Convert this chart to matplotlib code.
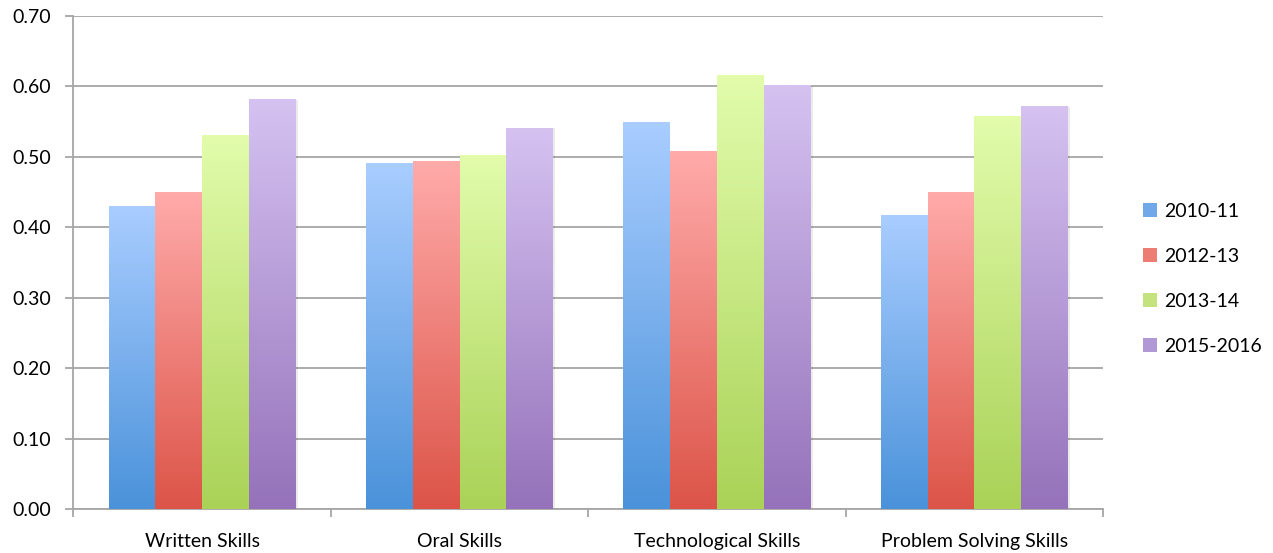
import numpy as np
import matplotlib
matplotlib.use("Agg")
import matplotlib.pyplot as plt
from matplotlib.patches import Patch, Rectangle
from matplotlib.colors import LinearSegmentedColormap

categories = ["Written Skills", "Oral Skills", "Technological Skills", "Problem Solving Skills"]
series = ["2010-11", "2012-13", "2013-14", "2015-2016"]
v2010 = [0.430, 0.490, 0.549, 0.417]
v2012 = [0.449, 0.494, 0.508, 0.449]
v2013 = [0.530, 0.502, 0.615, 0.558]
v2015 = [0.581, 0.541, 0.601, 0.571]
values = [v2010, v2012, v2013, v2015]

tops = ["#a9cdff", "#ffabaa", "#e2fcac", "#d5c2f1"]
bottoms = ["#4a92da", "#dc5448", "#aad257", "#9572ba"]
mids = ["#6fa9ea", "#ec7c74", "#c4e37e", "#b199d6"]

plt.rcParams['font.family'] = ['Lato', 'DejaVu Sans']
fig = plt.figure(figsize=(12.73, 5.53), dpi=100)
ax = fig.add_axes([0.0577, 0.0796, 0.8665 - 0.0577, 0.971 - 0.0796])

ax.set_xlim(-0.5, 3.5)
ax.set_ylim(0, 0.70)
width = 0.1816
x = np.arange(len(categories))
grad = np.linspace(1, 0, 256).reshape(-1, 1)

for i, vals in enumerate(values):
    offs = x + (i - 1.5) * width
    bars = ax.bar(offs, vals, width=width, color='none', edgecolor='none', zorder=3)
    cmap = LinearSegmentedColormap.from_list(f"g{i}", [bottoms[i], tops[i]])
    for b in bars:
        bx, by = b.get_x(), b.get_height()
        if i == 3:
            sh = Rectangle((bx + b.get_width(), 0), 0.008, by, facecolor='#000000',
                           alpha=0.08, edgecolor='none', zorder=2.5)
            ax.add_patch(sh)
        ax.imshow(grad, cmap=cmap, aspect='auto', origin='upper',
                  extent=[bx, bx + b.get_width(), 0, by], zorder=3, interpolation='bilinear')

ax.set_xlim(-0.5, 3.5)
ax.set_ylim(0, 0.70)

fs = 14
ax.set_yticks(np.arange(0, 0.71, 0.10))
ax.set_yticklabels([f"{t:.2f}" for t in np.arange(0, 0.71, 0.10)], fontsize=fs)
ax.yaxis.grid(True, color='#a6a6a6', linewidth=1.3, zorder=0)
ax.set_axisbelow(True)

ax.set_xticks([-0.5, 0.5, 1.5, 2.5, 3.5])
ax.set_xticklabels([])
ax.set_xticks(x, minor=True)
ax.set_xticklabels(categories, minor=True, fontsize=fs)
ax.tick_params(axis='x', which='minor', length=0, pad=17)
ax.tick_params(axis='x', which='major', length=6, color='#a6a6a6', width=1.3)
ax.tick_params(axis='y', length=6, color='#a6a6a6', width=1.3, pad=10)

for s in ['top', 'right']:
    ax.spines[s].set_visible(False)
for s in ['left', 'bottom']:
    ax.spines[s].set_color('#a6a6a6')
    ax.spines[s].set_linewidth(1.3)

handles = [Patch(facecolor=mids[i], edgecolor='none', label=series[i]) for i in range(4)]
fig.legend(handles=handles, loc='center left', bbox_to_anchor=(0.884, 0.496),
           frameon=False, fontsize=fs, handlelength=0.75, handleheight=0.75,
           labelspacing=1.44, handletextpad=0.35)

fig.savefig("out.png", dpi=100)
